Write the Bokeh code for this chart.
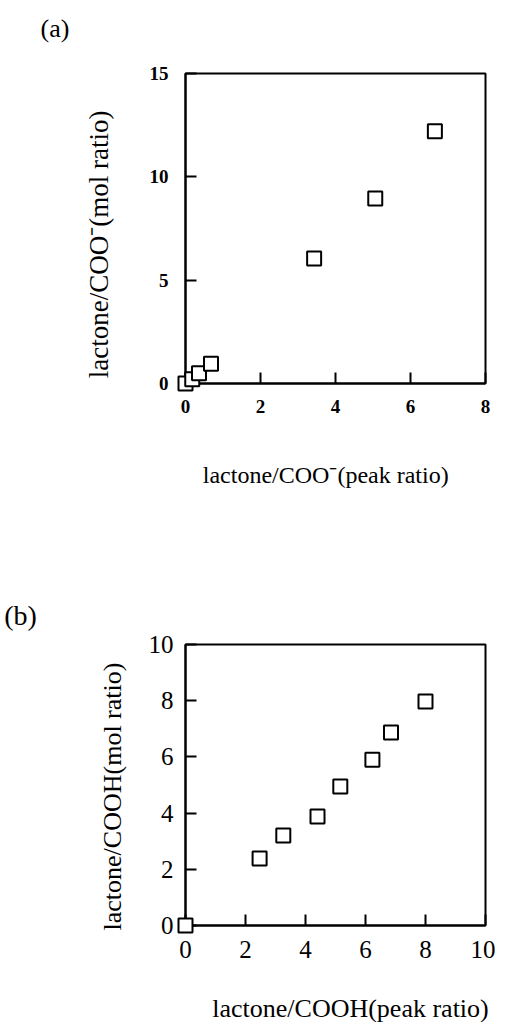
from bokeh.plotting import figure
from bokeh.models import Range1d, FixedTicker
from bokeh.layouts import column
from bokeh.embed import file_html
from bokeh.resources import INLINE
from bokeh.core.properties import value

# ---- data ----
a_peak = [0.0, 0.18, 0.36, 0.68, 3.43, 5.06, 6.65]
a_mol = [0.0, 0.2, 0.5, 0.95, 6.05, 8.95, 12.2]
b_peak = [0.0, 2.47, 3.26, 4.4, 5.16, 6.23, 6.85, 8.0]
b_mol = [0.0, 2.38, 3.2, 3.88, 4.95, 5.9, 6.87, 7.97]

a_xticks = [0, 2, 4, 6, 8]
a_yticks = [0, 5, 10, 15]
b_xticks = [0, 2, 4, 6, 8, 10]
b_yticks = [0, 2, 4, 6, 8, 10]

a_xlabel = "lactone/COO\u207b(peak ratio)"
a_ylabel = "lactone/COO\u207b(mol ratio)"
b_xlabel = "lactone/COOH(peak ratio)"
b_ylabel = "lactone/COOH(mol ratio)"

FONT = "Liberation Serif"


def style(p, xt, yt, fs, bold):
    p.outline_line_color = "black"
    p.outline_line_width = 2
    p.outline_line_alpha = 1
    p.xgrid.visible = False
    p.ygrid.visible = False
    p.background_fill_color = "white"
    p.border_fill_color = "white"
    for ax, t in ((p.xaxis[0], xt), (p.yaxis[0], yt)):
        ax.ticker = FixedTicker(ticks=t)
        ax.axis_line_width = 2
        ax.axis_line_color = "black"
        ax.major_tick_line_width = 2
        ax.major_tick_line_color = "black"
        ax.major_tick_in = 11
        ax.major_tick_out = 0
        ax.minor_tick_line_color = None
        ax.major_label_text_font = FONT
        ax.major_label_text_font_size = fs
        ax.major_label_text_color = "black"
        if bold:
            ax.major_label_text_font_style = "bold"


def put_text(p, x, y, txt, size, angle=0.0):
    p.text(x=[x], y=[y], text=[txt], angle=angle, text_font=value(FONT),
           text_font_size=size, text_color="black", text_align="center",
           text_baseline="middle", level="overlay")


# ---- panel (a) ----
pa = figure(width=495, height=540, output_backend="svg", toolbar_location=None,
            x_range=Range1d(0, 8), y_range=Range1d(0, 15),
            min_border_left=178, min_border_right=9, min_border_top=73,
            min_border_bottom=157)
style(pa, a_xticks, a_yticks, "19px", True)
pa.xaxis.major_label_standoff = 16
pa.yaxis.major_label_standoff = 17
pa.scatter(a_peak, a_mol, marker="square", size=14, line_color="black",
           line_width=2, fill_color="white", level="overlay")
put_text(pa, -3.48, 17.2, "(a)", "26px")
put_text(pa, -2.31, 6.73, a_ylabel, "27px", 1.5708)
put_text(pa, 3.74, -4.45, a_xlabel, "24px")

# ---- panel (b) ----
pb = figure(width=495, height=482, output_backend="svg", toolbar_location=None,
            x_range=Range1d(0, 10), y_range=Range1d(0, 10),
            min_border_left=185, min_border_right=10, min_border_top=104,
            min_border_bottom=97)
style(pb, b_xticks, b_yticks, "25px", False)
pb.xaxis.major_label_standoff = 15
pb.yaxis.major_label_standoff = 12
pb.scatter(b_peak, b_mol, marker="square", size=14, line_color="black",
           line_width=2, fill_color="white", level="overlay")
put_text(pb, -5.5, 11.03, "(b)", "28px")
put_text(pb, -2.43, 4.59, b_ylabel, "26px", 1.5708)
put_text(pb, 5.5, -2.95, b_xlabel, "26px")

layout = column(pa, pb, spacing=0)
open("out.html", "w").write(file_html(layout, INLINE))
